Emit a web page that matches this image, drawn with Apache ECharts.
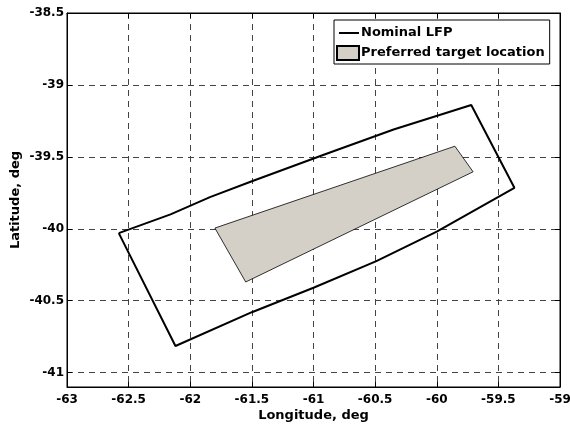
<!DOCTYPE html>
<html>
<head>
<meta charset="utf-8">
<script src="https://cdn.jsdelivr.net/npm/echarts@6/dist/echarts.min.js"></script>
<style>html,body{margin:0;padding:0;background:#fff;}#c{width:570px;height:425px;}</style>
</head>
<body>
<div id="c"></div>
<script>
const xTicks = [-63, -62.5, -62, -61.5, -61, -60.5, -60, -59.5, -59];
const yTicks = [-41, -40.5, -40, -39.5, -39, -38.5];
const lfpLon = [-62.58, -62.16, -61.84, -61.50, -60.90, -60.35, -59.72, -59.37, -60.00, -60.49, -61.00, -61.50, -62.12, -62.58];
const lfpLat = [-40.03, -39.90, -39.78, -39.67, -39.48, -39.31, -39.14, -39.715, -40.02, -40.225, -40.41, -40.58, -40.815, -40.03];
const tgtLon = [-61.80, -61.55, -59.705, -59.853];
const tgtLat = [-39.995, -40.37, -39.604, -39.426];
const seriesNames = ['Nominal LFP', 'Preferred target location'];

const FONT = 'DejaVu Sans';
const chart = echarts.init(document.getElementById('c'), null, {renderer: 'canvas'});
const lfpData = lfpLon.map((v, i) => [v, lfpLat[i]]);
const tgtData = tgtLon.map((v, i) => [v, tgtLat[i]]);
const gridLine = {show: true, lineStyle: {color: '#444', type: [6, 5], width: 1}};
const mirrorAxis = {show: true, lineStyle: {color: '#000', width: 1}};
chart.setOption({
  animation: false,
  backgroundColor: '#fff',
  grid: {left: 67, right: 10, top: 13, bottom: 38, outerBoundsMode: 'none', containLabel: false,
         show: true, borderColor: '#000', borderWidth: 1, backgroundColor: '#fff'},
  legend: {
    orient: 'vertical', left: 334, top: 20,
    padding: [6, 5, 3, 2], itemGap: 5, itemWidth: 22, itemHeight: 14,
    backgroundColor: '#fff', borderColor: '#000', borderWidth: 1, borderRadius: 0,
    textStyle: {fontFamily: FONT, fontWeight: 'bold', fontSize: 13, color: '#000', padding: [0, 0, 0, -3]},
    data: [
      {name: seriesNames[0], icon: 'path://M0,0 M2,6 L22,6 L22,8 L2,8 Z M22,14', itemStyle: {color: '#000', borderWidth: 0}},
      {name: seriesNames[1], icon: 'rect'}
    ]
  },
  xAxis: [{
    type: 'value', min: xTicks[0], max: xTicks[xTicks.length - 1], interval: 0.5,
    name: 'Longitude, deg', nameLocation: 'middle', nameGap: 22, nameMoveOverlap: false,
    nameTextStyle: {fontFamily: FONT, fontWeight: 'bold', fontSize: 13, color: '#000'},
    axisLine: mirrorAxis,
    axisTick: {show: true, inside: true, length: 5, lineStyle: {color: '#000'}},
    axisLabel: {fontFamily: FONT, fontWeight: 'bold', fontSize: 12, color: '#000', margin: 7, showMinLabel: true, showMaxLabel: true},
    splitLine: gridLine
  }, {
    type: 'value', position: 'top', min: xTicks[0], max: xTicks[xTicks.length - 1], interval: 0.5,
    axisLine: mirrorAxis,
    axisTick: {show: true, inside: true, length: 5, lineStyle: {color: '#000'}},
    axisLabel: {show: false}, splitLine: {show: false}
  }],
  yAxis: [{
    type: 'value', min: -41.1, max: yTicks[yTicks.length - 1],
    name: 'Latitude, deg', nameLocation: 'middle', nameGap: 45, nameMoveOverlap: false,
    nameTextStyle: {fontFamily: FONT, fontWeight: 'bold', fontSize: 13, color: '#000'},
    axisLine: mirrorAxis,
    axisTick: {show: true, inside: true, length: 5, lineStyle: {color: '#000'}, customValues: yTicks},
    axisLabel: {fontFamily: FONT, fontWeight: 'bold', fontSize: 12, color: '#000', margin: 3, customValues: yTicks},
    splitLine: gridLine
  }, {
    type: 'value', position: 'right', min: -41.1, max: yTicks[yTicks.length - 1],
    axisLine: mirrorAxis,
    axisTick: {show: true, inside: true, length: 5, lineStyle: {color: '#000'}, customValues: yTicks},
    axisLabel: {show: false}, splitLine: {show: false}
  }],
  series: [{
    name: seriesNames[1], type: 'custom', xAxisIndex: 0, yAxisIndex: 0,
    data: tgtData, encode: {x: 0, y: 1},
    itemStyle: {color: '#d4d0c8', borderColor: '#000', borderWidth: 0.8},
    renderItem: function (params, api) {
      if (params.dataIndex !== 0) return null;
      const pts = tgtData.map(p => api.coord(p));
      return {type: 'polygon', shape: {points: pts}, style: {fill: '#d4d0c8', stroke: '#000', lineWidth: 0.8}};
    },
    z: 2
  }, {
    name: seriesNames[0], type: 'line', xAxisIndex: 0, yAxisIndex: 0,
    data: lfpData, symbol: 'none', showSymbol: false,
    lineStyle: {color: '#000', width: 2}, itemStyle: {color: '#000'},
    z: 3
  }]
});
</script>
</body>
</html>
